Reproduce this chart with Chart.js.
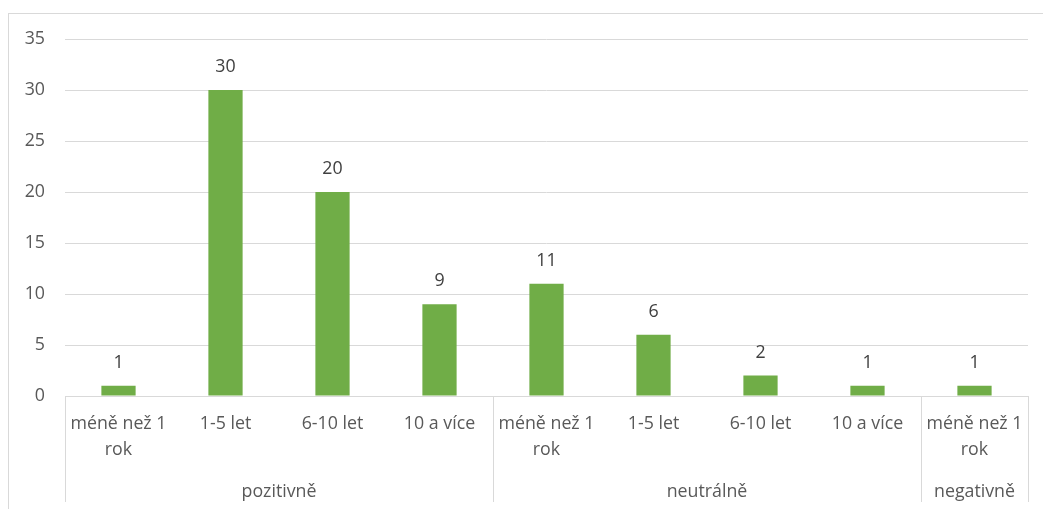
<!DOCTYPE html>
<html>
<head>
<meta charset="utf-8">
<script src="https://cdn.jsdelivr.net/npm/chart.js@4/dist/chart.umd.min.js"></script>
<style>
  html, body { margin: 0; padding: 0; background: #ffffff; }
  #wrap { width: 1043px; height: 509px; }
</style>
</head>
<body>
<div id="wrap"><canvas id="c" width="1043" height="509"></canvas></div>
<script>
// Category labels (inner level) and the group each one belongs to (outer level)
const categories = [
  ['méně než 1', 'rok'], '1-5 let', '6-10 let', '10 a více',
  ['méně než 1', 'rok'], '1-5 let', '6-10 let', '10 a více',
  ['méně než 1', 'rok']
];
const categoryGroups = [
  'pozitivně', 'pozitivně', 'pozitivně', 'pozitivně',
  'neutrálně', 'neutrálně', 'neutrálně', 'neutrálně',
  'negativně'
];
const values = [1, 30, 20, 9, 11, 6, 2, 1, 1];
const yTicks = [0, 5, 10, 15, 20, 25, 30, 35];

const FONT = '"Open Sans", Lato, sans-serif';
const FONT_SIZE = 17.8;
const GRID = '#d9d9d9';
const BAR = '#70ad47';

// Group spans on the category index scale (centre of category i is i)
const groups = [];
categoryGroups.forEach((g, i) => {
  const last = groups[groups.length - 1];
  if (last && last.name === g) last.end = i;
  else groups.push({ name: g, start: i, end: i });
});

// Frame around the chart, outer level of the category axis, value labels
const extras = {
  id: 'extras',
  beforeDraw(chart) {
    const ctx = chart.ctx;
    ctx.save();
    ctx.strokeStyle = GRID;
    ctx.lineWidth = 1;
    ctx.strokeRect(8.5, 13.5, chart.width + 20, chart.height + 20);
    ctx.restore();
  },
  afterDraw(chart) {
    const ctx = chart.ctx;
    const x = chart.scales.x;
    ctx.save();
    ctx.strokeStyle = GRID;
    ctx.lineWidth = 1;
    const bounds = [groups[0].start - 0.5].concat(groups.map(gr => gr.end + 0.5));
    bounds.forEach(b => {
      const px = Math.round(x.getPixelForValue(b)) + 0.5;
      ctx.beginPath();
      ctx.moveTo(px, chart.chartArea.bottom);
      ctx.lineTo(px, x.bottom - 4);
      ctx.stroke();
    });
    ctx.font = FONT_SIZE + 'px ' + FONT;
    ctx.fillStyle = '#595959';
    ctx.textAlign = 'center';
    ctx.textBaseline = 'middle';
    groups.forEach(gr => {
      const cx = x.getPixelForValue((gr.start + gr.end) / 2);
      ctx.fillText(gr.name, cx, x.bottom - 14);
    });
    ctx.restore();
  },
  afterDatasetsDraw(chart) {
    const ctx = chart.ctx;
    const meta = chart.getDatasetMeta(0);
    ctx.save();
    ctx.font = FONT_SIZE + 'px ' + FONT;
    ctx.fillStyle = '#404040';
    ctx.textAlign = 'center';
    ctx.textBaseline = 'middle';
    meta.data.forEach((bar, i) => {
      ctx.fillText(String(values[i]), bar.x, bar.y - 23);
    });
    ctx.restore();
  }
};

new Chart(document.getElementById('c'), {
  type: 'bar',
  data: {
    labels: categories,
    datasets: [{
      data: values,
      backgroundColor: BAR,
      borderWidth: 0,
      barPercentage: 0.64,
      categoryPercentage: 0.5
    }]
  },
  options: {
    responsive: false,
    animation: false,
    events: [],
    layout: { padding: { left: 8, right: 15, top: 39, bottom: 3 } },
    plugins: { legend: { display: false }, tooltip: { enabled: false } },
    scales: {
      y: {
        min: 0, max: 35,
        afterBuildTicks: s => { s.ticks = yTicks.map(v => ({ value: v })); },
        afterFit: s => { s.width = 57; },
        border: { display: false },
        grid: { color: GRID, drawTicks: false },
        ticks: { padding: 20, color: '#595959', font: { family: FONT, size: FONT_SIZE } }
      },
      x: {
        position: 'bottom',
        afterFit: s => { s.height = 110; },
        border: { color: GRID },
        grid: { display: false },
        ticks: {
          padding: 7, maxRotation: 0, autoSkip: false,
          color: '#595959', font: { family: FONT, size: FONT_SIZE, lineHeight: 1.46 }
        }
      }
    }
  },
  plugins: [extras]
});
</script>
</body>
</html>
